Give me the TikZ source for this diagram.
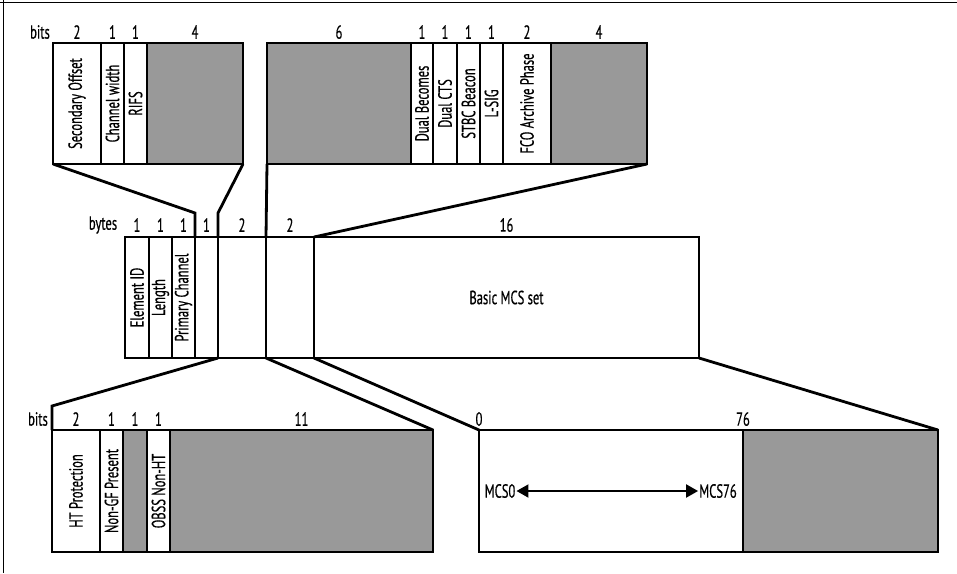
\documentclass[tikz,border=0pt]{standalone}
\usepackage{fontspec}
\setmainfont[FakeStretch=0.66,FakeBold=0.5]{PT Sans}
\usetikzlibrary{arrows.meta}
\definecolor{fieldgray}{HTML}{999999}
\tikzset{
  fld/.style={draw=black, line width=2.8pt, fill=white, inner sep=0pt, outer sep=0pt, anchor=north west, minimum height=121pt},
  gfld/.style={fld, fill=fieldgray},
  vtext/.style={rotate=90, inner sep=0pt, font=\fontsize{19}{22}\selectfont},
  hdr/.style={inner sep=0pt, font=\fontsize{19}{22}\selectfont},
  conn/.style={line width=2.8pt, line join=miter},
  frame/.style={line width=1pt}
}
\begin{document}
\begin{tikzpicture}[x=1pt,y=-1pt]
\useasboundingbox (0,0) rectangle (957,573);
\draw[frame] (0,2) -- (957,2);
\draw[frame] (3,0) -- (3,573);

% top-left block (8 bits)
\node[fld, minimum width=48pt] (tl1) at (53,43) {};
\node[fld, minimum width=23pt] (tl2) at (101,43) {};
\node[fld, minimum width=23pt] (tl3) at (124,43) {};
\node[gfld, minimum width=96pt] (tl4) at (147,43) {};
\node[vtext] at (tl1.center) {Secondary Offset};
\node[vtext] at (tl2.center) {Channel width};
\node[vtext] at (tl3.center) {RIFS};
\node[hdr] at (40,32) {bits};
\path (tl1.north) ++(0,-11) node[hdr] {2};
\path (tl2.north) ++(0,-11) node[hdr] {1};
\path (tl3.north) ++(0,-11) node[hdr] {1};
\path (tl4.north) ++(0,-11) node[hdr] {4};

% top-right block (16 bits)
\node[gfld, minimum width=144pt] (tr1) at (267,43) {};
\node[fld, minimum width=22pt] (tr2) at (411,43) {};
\node[fld, minimum width=24pt] (tr3) at (433,43) {};
\node[fld, minimum width=23pt] (tr4) at (457,43) {};
\node[fld, minimum width=23pt] (tr5) at (480,43) {};
\node[fld, minimum width=48pt] (tr6) at (503,43) {};
\node[gfld, minimum width=96pt] (tr7) at (551,43) {};
\node[vtext] at (tr2.center) {Dual Becomes};
\node[vtext] at (tr3.center) {Dual CTS};
\node[vtext] at (tr4.center) {STBC Beacon};
\node[vtext] at (tr5.center) {L-SIG};
\node[vtext] at (tr6.center) {FCO Archive Phase};
\path (tr1.north) ++(0,-11) node[hdr] {6};
\path (tr2.north) ++(0,-11) node[hdr] {1};
\path (tr3.north) ++(0,-11) node[hdr] {1};
\path (tr4.north) ++(0,-11) node[hdr] {1};
\path (tr5.north) ++(0,-11) node[hdr] {1};
\path (tr6.north) ++(0,-11) node[hdr] {2};
\path (tr7.north) ++(0,-11) node[hdr] {4};

% middle block (bytes)
\node[fld, minimum width=24pt] (m1) at (125,237) {};
\node[fld, minimum width=23pt] (m2) at (149,237) {};
\node[fld, minimum width=23pt] (m3) at (172,237) {};
\node[fld, minimum width=23pt] (m4) at (195,237) {};
\node[fld, minimum width=48pt] (m5) at (218,237) {};
\node[fld, minimum width=48pt] (m6) at (266,237) {};
\node[fld, minimum width=385pt] (m7) at (314,237) {};
\node[vtext] at (m1.center) {Element ID};
\node[vtext] at (m2.center) {Length};
\node[vtext] at (m3.center) {Primary Channel};
\node[hdr] at (m7.center) {Basic MCS set};
\node[hdr] at (103,225) {bytes};
\path (m1.north) ++(0,-12) node[hdr] {1};
\path (m2.north) ++(0,-12) node[hdr] {1};
\path (m3.north) ++(0,-12) node[hdr] {1};
\path (m4.north) ++(0,-12) node[hdr] {1};
\path (m5.north) ++(0,-12) node[hdr] {2};
\path (m6.north) ++(0,-12) node[hdr] {2};
\path (m7.north) ++(0,-12) node[hdr] {16};

% bottom-left block (16 bits)
\node[fld, minimum width=48pt, minimum height=122pt] (b1) at (52,430) {};
\node[fld, minimum width=23pt, minimum height=122pt] (b2) at (100,430) {};
\node[gfld, minimum width=24pt, minimum height=122pt] (b3) at (123,430) {};
\node[fld, minimum width=23pt, minimum height=122pt] (b4) at (147,430) {};
\node[gfld, minimum width=263pt, minimum height=122pt] (b5) at (170,430) {};
\node[vtext] at (b1.center) {HT Protection};
\node[vtext] at (b2.center) {Non-GF Present};
\node[vtext] at (b4.center) {OBSS Non-HT};
\node[hdr] at (38,419) {bits};
\path (b1.north) ++(0,-11) node[hdr] {2};
\path (b2.north) ++(0,-11) node[hdr] {1};
\path (b3.north) ++(0,-11) node[hdr] {1};
\path (b4.north) ++(0,-11) node[hdr] {1};
\path (b5.north) ++(0,-11) node[hdr] {11};

% bottom-right block (MCS bitmap)
\node[fld, minimum width=264pt, minimum height=122pt] (r1) at (479,430) {};
\node[gfld, minimum width=195pt, minimum height=122pt] (r2) at (743,430) {};
\path (r1.north west) ++(0,-11) node[hdr] {0};
\path (r1.north east) ++(0,-11) node[hdr] {76};
\node[hdr, inner sep=1pt] (mcs0) at (500,491) {MCS0};
\node[hdr, inner sep=1pt] (mcs76) at (718,491) {MCS76};
\draw[line width=2pt, {Triangle[length=12pt,width=13pt]}-{Triangle[length=12pt,width=13pt]}] (mcs0) -- (mcs76);

% connectors
\coordinate (c1) at (195,213);
\coordinate (c2) at (218,213);
\coordinate (c3) at (52,406);
\draw[conn] (tl1.south west) -- (c1) -- (m4.north west);
\draw[conn] (tl4.south east) -- (c2) -- (m5.north west);
\draw[conn] (tr1.south west) -- (m6.north west);
\draw[conn] (tr7.south east) -- (m7.north west);
\draw[conn] (m5.south west) -- (c3) -- (b1.north west);
\draw[conn] (m6.south west) -- (b5.north east);
\draw[conn] (m7.south west) -- (r1.north west);
\draw[conn] (m7.south east) -- (r2.north east);
\end{tikzpicture}
\end{document}
